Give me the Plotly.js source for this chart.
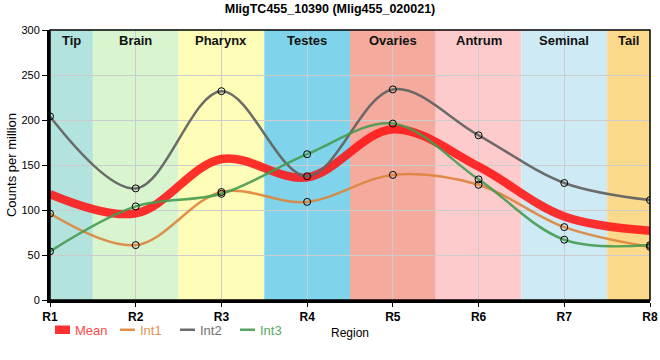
<!DOCTYPE html>
<html><head><meta charset="utf-8">
<script src="https://cdn.plot.ly/plotly-3.0.1.min.js"></script>
<style>html,body{margin:0;padding:0;background:#fff}#chart{width:660px;height:360px}</style>
</head><body><div id="chart"></div>
<script>
const regions = ["R1","R2","R3","R4","R5","R6","R7","R8"];
const int1 = [96, 61, 120, 109, 139, 128, 81, 59];
const int2 = [204, 124, 232, 137.5, 234, 183, 130, 111];
const int3 = [54, 104, 118, 162, 196, 134, 67, 61];
const meanVals = [117.7, 96.3, 156.7, 136.2, 189.7, 148.3, 92.7, 77];
const bandNames = ["Tip","Brain","Pharynx","Testes","Ovaries","Antrum","Seminal","Tail"];
const bandColors = ["#b3e3dd","#d8f5d0","#fdfdb7","#7fd4eb","#f4ab9d","#fdcbcb","#ceebf5","#fdda8b"];

const xs = regions.map((r,i)=>i);
const shapes = [];
const annotations = [];
bandNames.forEach((n,i)=>{
  const x0 = Math.max(i-0.5, 0), x1 = Math.min(i+0.5, 7);
  shapes.push({type:'rect', xref:'x', yref:'paper', x0:x0, x1:x1, y0:0, y1:1,
    fillcolor:bandColors[i], line:{width:0}, layer:'below'});
  annotations.push({x:(x0+x1)/2, y:1, xref:'x', yref:'paper', yanchor:'top', yshift:-1,
    text:'<b>'+n+'</b>', showarrow:false, font:{family:'Liberation Sans, Arial', size:13, color:'#111'}});
});
shapes.push({type:'rect', xref:'paper', yref:'paper', x0:0, x1:1, y0:0, y1:1, line:{color:'#000', width:1.5}, layer:'above'});

const markerStyle = {symbol:'circle', size:7, color:'rgba(0,0,0,0)', line:{color:'#000', width:1}};
const lineColors = ['rgba(255,20,20,0.88)','rgba(222,132,60,0.9)','rgba(100,100,100,0.95)','rgba(70,155,80,0.9)'];
const traces = [
  {x:xs, y:meanVals, name:'Mean', mode:'lines', line:{color:lineColors[0], width:8.5, shape:'spline', smoothing:1}},
  {x:xs, y:int1, name:'Int1', mode:'lines', line:{color:lineColors[1], width:2.5, shape:'spline', smoothing:1}},
  {x:xs, y:int2, name:'Int2', mode:'lines', line:{color:lineColors[2], width:2.5, shape:'spline', smoothing:1}},
  {x:xs, y:int3, name:'Int3', mode:'lines', line:{color:lineColors[3], width:2.5, shape:'spline', smoothing:1}},
  {x:xs, y:int1, name:'Int1', mode:'markers', marker:markerStyle, showlegend:false},
  {x:xs, y:int2, name:'Int2', mode:'markers', marker:markerStyle, showlegend:false},
  {x:xs, y:int3, name:'Int3', mode:'markers', marker:markerStyle, showlegend:false}
];

const layout = {
  width:660, height:360,
  margin:{l:50, r:10, t:30, b:60},
  paper_bgcolor:'#fff', plot_bgcolor:'#fff',
  font:{family:'Liberation Sans, Arial', color:'#000'},
  title:{text:'<b>MligTC455_10390 (Mlig455_020021)</b>', x:0.5, xanchor:'center', y:0.975, yanchor:'middle', font:{size:12.5, color:'#000'}},
  xaxis:{range:[0,7], tickvals:xs, ticktext:regions.map(r=>'<b>'+r+'</b>'), showgrid:true, gridcolor:'#cccccc', gridwidth:1,
    showline:true, linecolor:'#000', linewidth:3, ticks:'outside', ticklen:4, tickcolor:'#000', tickfont:{size:12},
    zeroline:false, fixedrange:true,
    title:{text:'Region', font:{size:12}, standoff:6}},
  yaxis:{range:[0,300], tickvals:[0,50,100,150,200,250,300], showgrid:true, gridcolor:'#cccccc', gridwidth:1,
    showline:true, linecolor:'#000', linewidth:3, ticks:'outside', ticklen:5, tickcolor:'#000', tickfont:{size:11},
    zeroline:false, title:{text:'Counts per million', font:{size:13}, standoff:2}},
  showlegend:true,
  legend:{orientation:'h', x:0.0, xanchor:'left', y:-0.11, yanchor:'middle', font:{size:13}, bgcolor:'rgba(0,0,0,0)',
    itemwidth:30, entrywidth:20, tracegroupgap:0},
  shapes:shapes, annotations:annotations
};
Plotly.newPlot('chart', traces, layout, {displayModeBar:false, staticPlot:true}).then(()=>{
  const cols = ['#ff4a4a','#e39050','#707070','#5aa866'];
  const targets = [55, 120, 180, 240];
  const groups = document.querySelectorAll('.legend .traces');
  groups.forEach((g,i)=>{
    const t = g.querySelector('text.legendtext');
    if(t){ t.style.fill = cols[i]; t.setAttribute('x', 20); }
    let sw = null;
    g.querySelectorAll('path.js-line').forEach(p=>{
      const d = p.getAttribute('d') || '';
      const m2 = d.match(/^M([-\d.]+),([-\d.]+)h([-\d.]+)/);
      if(m2){ p.setAttribute('d', 'M0,' + m2[2] + 'h15'); sw = p; }
    });
    const tr = g.getAttribute('transform') || '';
    const m = tr.match(/translate\(([-\d.]+)[ ,]+([-\d.]+)\)/);
    let gx = m ? parseFloat(m[1]) : 0;
    const y = m ? m[2] : 0;
    if(sw){
      const left = sw.getBoundingClientRect().left;
      gx += targets[i] - left;
    }
    g.setAttribute('transform', 'translate(' + gx + ',' + y + ')');
  });
});
</script></body></html>
